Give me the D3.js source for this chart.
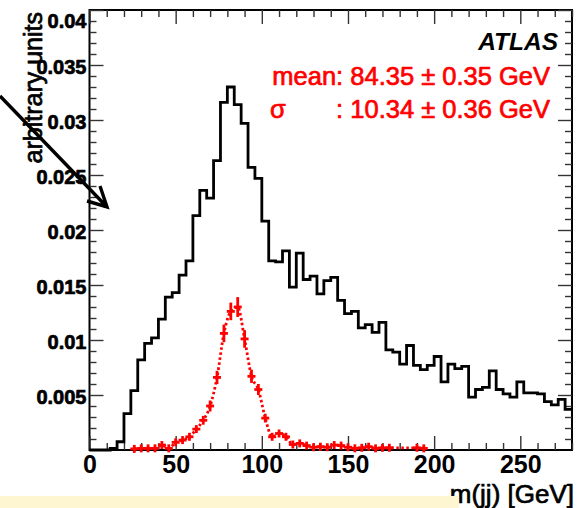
<!DOCTYPE html>
<html>
<head>
<meta charset="utf-8">
<script src="https://cdn.jsdelivr.net/npm/d3@7"></script>
<style>
  body { margin: 0; background: #fff; }
  text { font-family: "Liberation Sans", Arial, Helvetica, sans-serif; }
</style>
</head>
<body>
<script>
// m(jj) histograms, 4 GeV bins from 0 to 280 GeV
let binWidth = 4;
let binLow = d3.range(0, 280, binWidth);

// black histogram (all jet pairs)
let allPairs = [
	0, 0, 0, 0.00015, 0.00075, 0.0033, 0.0054, 0.0082, 0.0097, 0.0102,
	0.0119, 0.0139, 0.0143, 0.0159, 0.0172, 0.0213, 0.0236, 0.0229, 0.0263, 0.0316,
	0.0330, 0.0314, 0.0297, 0.0257, 0.0247, 0.0208, 0.0172, 0.0171, 0.0181, 0.0148,
	0.0179, 0.0155, 0.0158, 0.0142, 0.0154, 0.0157, 0.0136, 0.0124, 0.0126, 0.0111,
	0.0114, 0.0107, 0.0116, 0.0091, 0.0089, 0.0078, 0.0095, 0.0077, 0.0073, 0.0077,
	0.0085, 0.0062, 0.0078, 0.0074, 0.0076, 0.0048, 0.0055, 0.0057, 0.0072, 0.0055,
	0.0051, 0.0048, 0.0062, 0.0052, 0.0052, 0.0051, 0.0044, 0.0041, 0.0046, 0.0037
];

// red points (correct pairs), bins 24..192 GeV
let redLow = d3.range(24, 196, binWidth);
let redVals = [
	0.0001, 0.00015, 0.00015, 0.00015, 0.00045, 0.00015, 0.0007, 0.0009, 0.0012, 0.0019,
	0.0027, 0.0040, 0.0066, 0.0106, 0.0126, 0.0130, 0.0101, 0.0067, 0.0055, 0.0029,
	0.0012, 0.0015, 0.0012, 0.0005, 0.0006, 0.0004, 0.00025, 0.0003, 0.00025, 0.00045,
	0.0004, 0.00025, 0.00015, 0.0002, 0.0003, 0.00015, 0.0002, 0.0002, 0, 0,
	0, 0.0002, 0.00015
];
let redErr = [
	0.0001, 0.0001, 0.0001, 0.0001, 0.00015, 0.0001, 0.0002, 0.0002, 0.00025, 0.0003,
	0.0004, 0.0005, 0.0006, 0.0008, 0.0008, 0.0009, 0.0008, 0.0006, 0.0005, 0.0004,
	0.00025, 0.0003, 0.00025, 0.00015, 0.00015, 0.0001, 0.0001, 0.0001, 0.0001, 0.0001,
	0.0001, 0.0001, 0.0001, 0.0001, 0.0001, 0.0001, 0.0001, 0.0001, 0, 0,
	0, 0.0001, 0.0001
];

let xTicks = [0, 50, 100, 150, 200, 250];
let xTickLabels = ["0", "50", "100", "150", "200", "250"];
let yTicks = [0.005, 0.01, 0.015, 0.02, 0.025, 0.03, 0.035, 0.04];
let yTickLabels = ["0.005", "0.01", "0.015", "0.02", "0.025", "0.03", "0.035", "0.04"];

let meanText = "mean: 84.35 \u00b1 0.35 GeV";
let sigmaLabel = "\u03c3";
let sigmaText = ": 10.34 \u00b1 0.36 GeV";

let svgWidth = 586,
	svgHeight = 508;

let svg = d3
	.select("body")
	.append("svg")
	.attr("width", svgWidth)
	.attr("height", svgHeight);

let x = d3.scaleLinear().domain([0, 280]).range([89.5, 572]);
let y = d3.scaleLinear().domain([0, 0.04]).range([450, 10]);

//Frame:
svg.append("rect")
	.attr("x", x(0))
	.attr("y", y(0.04))
	.attr("width", x(280) - x(0))
	.attr("height", y(0) - y(0.04))
	.attr("fill", "none")
	.attr("stroke", "#000")
	.attr("stroke-width", 2);

//Axes (ticks pointing inwards on all four sides):
let xMinor = d3.range(0, 281, 10).filter(d => d % 50 != 0);
let yMinor = d3.range(1, 40).filter(d => d % 5 != 0).map(d => d / 1000);

function styleAxis(g) {
	g.select(".domain").remove();
	g.selectAll("line").attr("stroke", "#333").attr("stroke-width", 1.4);
}

// thicker look of the scanned-in text
function heavy(sel, color) {
	sel.attr("stroke", color).attr("stroke-width", 0.7).attr("stroke-linejoin", "round");
}

svg.append("g")
	.attr("transform", `translate(0,${y(0)})`)
	.call(d3.axisBottom(x).tickValues(xTicks).tickSize(-14).tickPadding(5)
		.tickFormat((d, i) => xTickLabels[i]))
	.call(styleAxis)
	.selectAll("text")
	.attr("fill", "#000")
	.style("font-size", "25px")
	.style("font-weight", "bold");
svg.append("g")
	.attr("transform", `translate(0,${y(0)})`)
	.call(d3.axisBottom(x).tickValues(xMinor).tickSize(-7).tickFormat(""))
	.call(styleAxis);
svg.append("g")
	.attr("transform", `translate(0,${y(0.04)})`)
	.call(d3.axisTop(x).tickValues(xTicks).tickSize(-14).tickFormat(""))
	.call(styleAxis);
svg.append("g")
	.attr("transform", `translate(0,${y(0.04)})`)
	.call(d3.axisTop(x).tickValues(xMinor).tickSize(-7).tickFormat(""))
	.call(styleAxis);

let yAxisG = svg.append("g")
	.attr("transform", `translate(${x(0)},0)`)
	.call(d3.axisLeft(y).tickValues(yTicks).tickSize(-14).tickPadding(3)
		.tickFormat((d, i) => yTickLabels[i]))
	.call(styleAxis);
yAxisG.selectAll("text")
	.attr("fill", "#000")
	.attr("dy", (d) => d == 0.04 ? "0.88em" : "0.4em")
	.style("font-size", "20px")
	.style("font-weight", "bold")
	.call(heavy, "#000");
svg.append("g")
	.attr("transform", `translate(${x(0)},0)`)
	.call(d3.axisLeft(y).tickValues(yMinor).tickSize(-7).tickFormat(""))
	.call(styleAxis);
svg.append("g")
	.attr("transform", `translate(${x(280)},0)`)
	.call(d3.axisRight(y).tickValues(yTicks).tickSize(-14).tickFormat(""))
	.call(styleAxis);
svg.append("g")
	.attr("transform", `translate(${x(280)},0)`)
	.call(d3.axisRight(y).tickValues(yMinor).tickSize(-7).tickFormat(""))
	.call(styleAxis);

//Black step histogram:
let stepPts = [[0, 0]];
allPairs.forEach((v, i) => {
	stepPts.push([binLow[i], v]);
	stepPts.push([binLow[i] + binWidth, v]);
});
let stepLine = d3.line().x(d => x(d[0])).y(d => y(d[1]));
svg.append("path")
	.attr("d", stepLine(stepPts))
	.attr("fill", "none")
	.attr("stroke", "#000")
	.attr("stroke-width", 2.8)
	.attr("stroke-linejoin", "miter");

//Red points + dotted curve through them:
let red = redVals.map((v, i) => ({ m: redLow[i] + binWidth / 2, v: v, e: redErr[i] }))
	.filter(d => d.v > 0);

let curve = d3.line().x(d => x(d.m)).y(d => y(d.v)).curve(d3.curveMonotoneX);
svg.append("path")
	.attr("d", curve(red))
	.attr("fill", "none")
	.attr("stroke", "#ff0000")
	.attr("stroke-width", 2.8)
	.attr("stroke-dasharray", "2.5,2.5");

let marks = svg.append("g").attr("stroke", "#ff0000").attr("stroke-width", 2.8);
marks.selectAll(".eb").data(red).enter().append("line")
	.attr("x1", d => x(d.m)).attr("x2", d => x(d.m))
	.attr("y1", d => Math.min(y(d.v + d.e), y(d.v) - 4))
	.attr("y2", d => Math.max(y(d.v - d.e), y(d.v) + 4));
marks.selectAll(".hb").data(red).enter().append("line")
	.attr("x1", d => x(d.m) - 4).attr("x2", d => x(d.m) + 4)
	.attr("y1", d => y(d.v)).attr("y2", d => y(d.v));

//Texts:
svg.append("text")
	.attr("x", 558).attr("y", 50)
	.attr("text-anchor", "end")
	.style("font-size", "24.5px")
	.style("font-weight", "bold")
	.style("font-style", "italic")
	.text("ATLAS");

svg.append("text")
	.attr("x", 550).attr("y", 85)
	.attr("text-anchor", "end")
	.attr("fill", "#ff0000")
	.style("font-size", "25.5px")
	.call(heavy, "#ff0000")
	.text(meanText);
svg.append("text")
	.attr("x", 270).attr("y", 118)
	.attr("fill", "#ff0000")
	.style("font-size", "25.5px")
	.call(heavy, "#ff0000")
	.text(sigmaLabel);
svg.append("text")
	.attr("x", 550).attr("y", 118)
	.attr("text-anchor", "end")
	.attr("fill", "#ff0000")
	.style("font-size", "25.5px")
	.call(heavy, "#ff0000")
	.text(sigmaText);

svg.append("text")
	.attr("transform", "translate(42,12) rotate(-90)")
	.attr("text-anchor", "end")
	.style("font-size", "25px")
	.call(heavy, "#000")
	.text("arbitrary units");

svg.append("text")
	.attr("x", 574).attr("y", 503)
	.attr("text-anchor", "end")
	.style("font-size", "26px")
	.call(heavy, "#000")
	.text("m(jj) [GeV]");

//Arrow:
let tip = [107, 207];
svg.append("path")
	.attr("d", `M0,96 L${tip[0]},${tip[1]} M87,201 L${tip[0]},${tip[1]} L100,186`)
	.attr("fill", "none")
	.attr("stroke", "#000")
	.attr("stroke-width", 3.4);

//Yellow strip at the bottom:
svg.append("rect")
	.attr("x", 0).attr("y", 496)
	.attr("width", 459).attr("height", 12)
	.attr("fill", "#fdf6d0");
</script>
</body>
</html>
